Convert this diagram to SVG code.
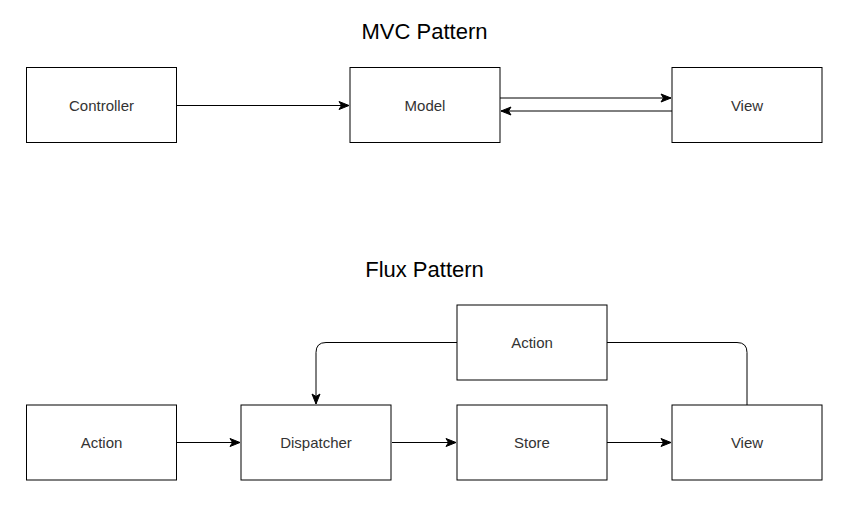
<svg xmlns="http://www.w3.org/2000/svg" width="853" height="505" viewBox="0 0 853 505">
  <style>
    .box { fill: #ffffff; stroke: #000000; stroke-width: 1; }
    .lbl { font-family: "Liberation Sans", Arial, sans-serif; font-size: 15px; fill: #333333; text-anchor: middle; }
    .title { font-family: "Liberation Sans", Arial, sans-serif; font-size: 22px; fill: #000000; text-anchor: middle; }
    .edge { fill: none; stroke: #000000; stroke-width: 1; }
  </style>
  <defs>
    <marker id="arr" markerUnits="userSpaceOnUse" markerWidth="12" markerHeight="10" refX="10" refY="4" orient="auto" overflow="visible">
      <path d="M0,0 L10,4 L0,8 L2.5,4 Z" fill="#000000" stroke="#000000" stroke-width="1" stroke-linejoin="miter"/>
    </marker>
  </defs>
  <rect width="853" height="505" fill="#ffffff"/>

  <text class="title" x="424.5" y="39">MVC Pattern</text>
  <text class="title" x="424.5" y="277">Flux Pattern</text>

  <g id="connectors">
    <path class="edge" d="M177,105.5 L349,105.5" marker-end="url(#arr)"/>
    <path class="edge" d="M500,98 L671,98" marker-end="url(#arr)"/>
    <path class="edge" d="M672,111 L501,111" marker-end="url(#arr)"/>
    <path class="edge" d="M177,442.5 L240,442.5" marker-end="url(#arr)"/>
    <path class="edge" d="M392,442.5 L456,442.5" marker-end="url(#arr)"/>
    <path class="edge" d="M607,442.5 L671,442.5" marker-end="url(#arr)"/>
    <path class="edge" d="M457,342.5 L326,342.5 Q316,342.5 316,352.5 L316,404" marker-end="url(#arr)"/>
    <path class="edge" d="M607,342.5 L737,342.5 Q747,342.5 747,352.5 L747,405"/>
  </g>

  <g id="controller">
    <rect class="box" x="26.5" y="67.5" width="150" height="75"/>
    <text class="lbl" x="101.5" y="111">Controller</text>
  </g>
  <g id="model">
    <rect class="box" x="350" y="67.5" width="150" height="75"/>
    <text class="lbl" x="425" y="111">Model</text>
  </g>
  <g id="mvc-view">
    <rect class="box" x="672" y="67.5" width="150" height="75"/>
    <text class="lbl" x="747" y="111">View</text>
  </g>

  <g id="flux-action-top">
    <rect class="box" x="457" y="305" width="150" height="75"/>
    <text class="lbl" x="532" y="348">Action</text>
  </g>
  <g id="flux-action">
    <rect class="box" x="26.5" y="405" width="150" height="75"/>
    <text class="lbl" x="101.5" y="448">Action</text>
  </g>
  <g id="dispatcher">
    <rect class="box" x="241" y="405" width="150" height="75"/>
    <text class="lbl" x="316" y="448">Dispatcher</text>
  </g>
  <g id="store">
    <rect class="box" x="457" y="405" width="150" height="75"/>
    <text class="lbl" x="532" y="448">Store</text>
  </g>
  <g id="flux-view">
    <rect class="box" x="672" y="405" width="150" height="75"/>
    <text class="lbl" x="747" y="448">View</text>
  </g>
</svg>
